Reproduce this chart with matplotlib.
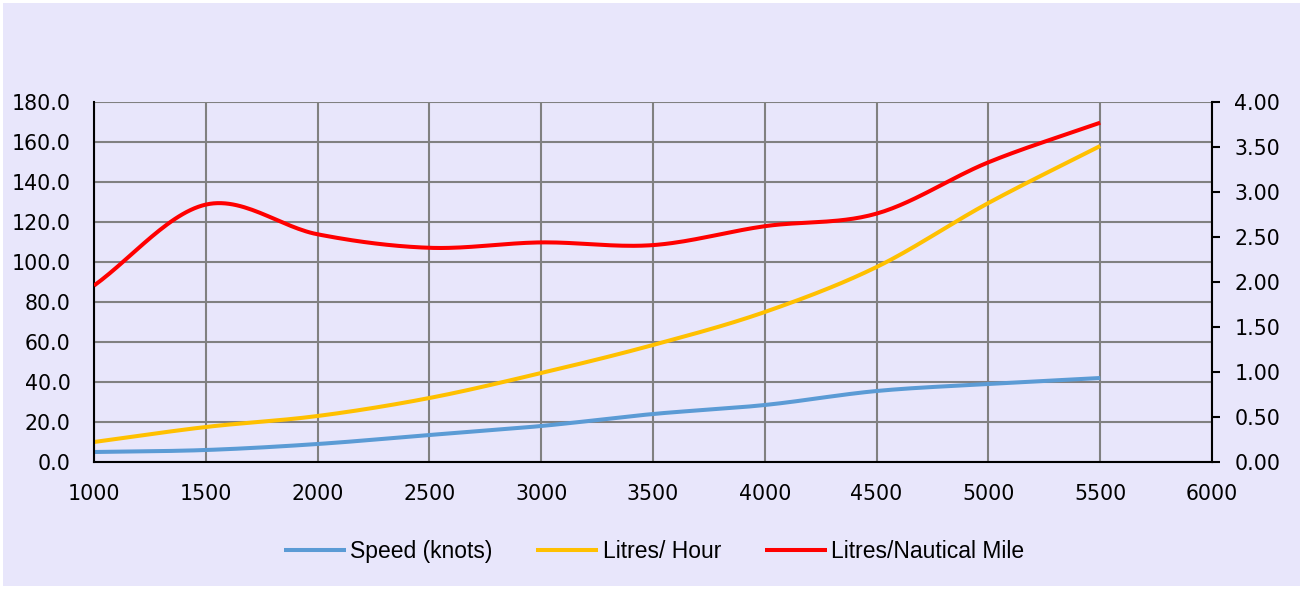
import matplotlib
matplotlib.use('Agg')
import matplotlib.pyplot as plt
import numpy as np
from matplotlib.patches import Rectangle

rpm = [1000, 1500, 2000, 2500, 3000, 3500, 4000, 4500, 5000, 5500]
speed = [5.0, 6.0, 9.0, 13.5, 18.0, 24.0, 28.5, 35.5, 39.0, 42.0]
litres_hour = [10.0, 17.5, 23.0, 32.0, 44.5, 58.5, 75.0, 97.5, 129.5, 158.0]
litres_nm = [1.96, 2.86, 2.53, 2.38, 2.44, 2.41, 2.62, 2.76, 3.33, 3.77]

left_ticks = [0, 20, 40, 60, 80, 100, 120, 140, 160, 180]
right_ticks = [0, 0.5, 1.0, 1.5, 2.0, 2.5, 3.0, 3.5, 4.0]
x_ticks = [1000, 1500, 2000, 2500, 3000, 3500, 4000, 4500, 5000, 5500, 6000]


def smooth(x, y, n=30):
    # Catmull-Rom style smoothing, similar to spreadsheet "smoothed line"
    x = np.asarray(x, float)
    y = np.asarray(y, float)
    px = np.concatenate(([2 * x[0] - x[1]], x, [2 * x[-1] - x[-2]]))
    py = np.concatenate(([2 * y[0] - y[1]], y, [2 * y[-1] - y[-2]]))
    xs, ys = [], []
    t = np.linspace(0, 1, n)
    for i in range(1, len(px) - 2):
        for arr, out in ((px, xs), (py, ys)):
            p0, p1, p2, p3 = arr[i - 1], arr[i], arr[i + 1], arr[i + 2]
            out.extend(0.5 * ((2 * p1) + (-p0 + p2) * t
                              + (2 * p0 - 5 * p1 + 4 * p2 - p3) * t ** 2
                              + (-p0 + 3 * p1 - 3 * p2 + p3) * t ** 3))
    return xs, ys


bg = '#E8E6FB'
fig = plt.figure(figsize=(13.03, 5.89), dpi=100)
fig.patch.set_facecolor('white')
fig.patches.append(Rectangle((3 / 1303, 3 / 589), 1297 / 1303, 583 / 589,
                             transform=fig.transFigure, facecolor=bg,
                             edgecolor='none', zorder=-10))

ax = fig.add_axes([94 / 1303, 1 - 462 / 589, 1118 / 1303, 360 / 589])
ax.set_facecolor(bg)
ax2 = ax.twinx()

blue, = ax.plot(*smooth(rpm, speed), color='#5B9BD5', lw=2.9, solid_capstyle='butt')
yellow, = ax.plot(*smooth(rpm, litres_hour), color='#FFC000', lw=2.9, solid_capstyle='butt')
red, = ax2.plot(*smooth(rpm, litres_nm), color='#FF0000', lw=2.9, solid_capstyle='butt')

ax.set_xlim(1000, 6000)
ax.set_ylim(0, 180)
ax2.set_ylim(0, 4.0)
ax.set_xticks(x_ticks)
ax.set_yticks(left_ticks)
ax.set_yticklabels(['%.1f' % v for v in left_ticks])
ax2.set_yticks(right_ticks)
ax2.set_yticklabels(['%.2f' % v for v in right_ticks])

ax.grid(True, color='#808080', lw=1.5)
ax.set_axisbelow(True)
for s in ['top', 'right']:
    ax.spines[s].set_visible(False)
for s in ['top', 'left', 'bottom']:
    ax2.spines[s].set_visible(False)
for s in ['left', 'bottom']:
    ax.spines[s].set_color('black')
    ax.spines[s].set_linewidth(1.5)
ax2.spines['right'].set_linewidth(1.5)

ax.tick_params(axis='y', length=0, labelsize=14.8, pad=17)
ax.tick_params(axis='x', length=0, labelsize=14.8, pad=16)
ax2.tick_params(axis='y', direction='out', length=6, width=1.5, labelsize=14.8, pad=10)

leg = fig.legend([blue, yellow, red],
                 ['Speed (knots)', 'Litres/ Hour', 'Litres/Nautical Mile'],
                 loc='center', bbox_to_anchor=(0.502, 0.063), ncol=3,
                 frameon=False, handlelength=2.7, handletextpad=0.2,
                 columnspacing=1.9, prop={'family': 'Liberation Sans', 'size': 16.5})

fig.savefig('out.png', dpi=100, facecolor='white')
